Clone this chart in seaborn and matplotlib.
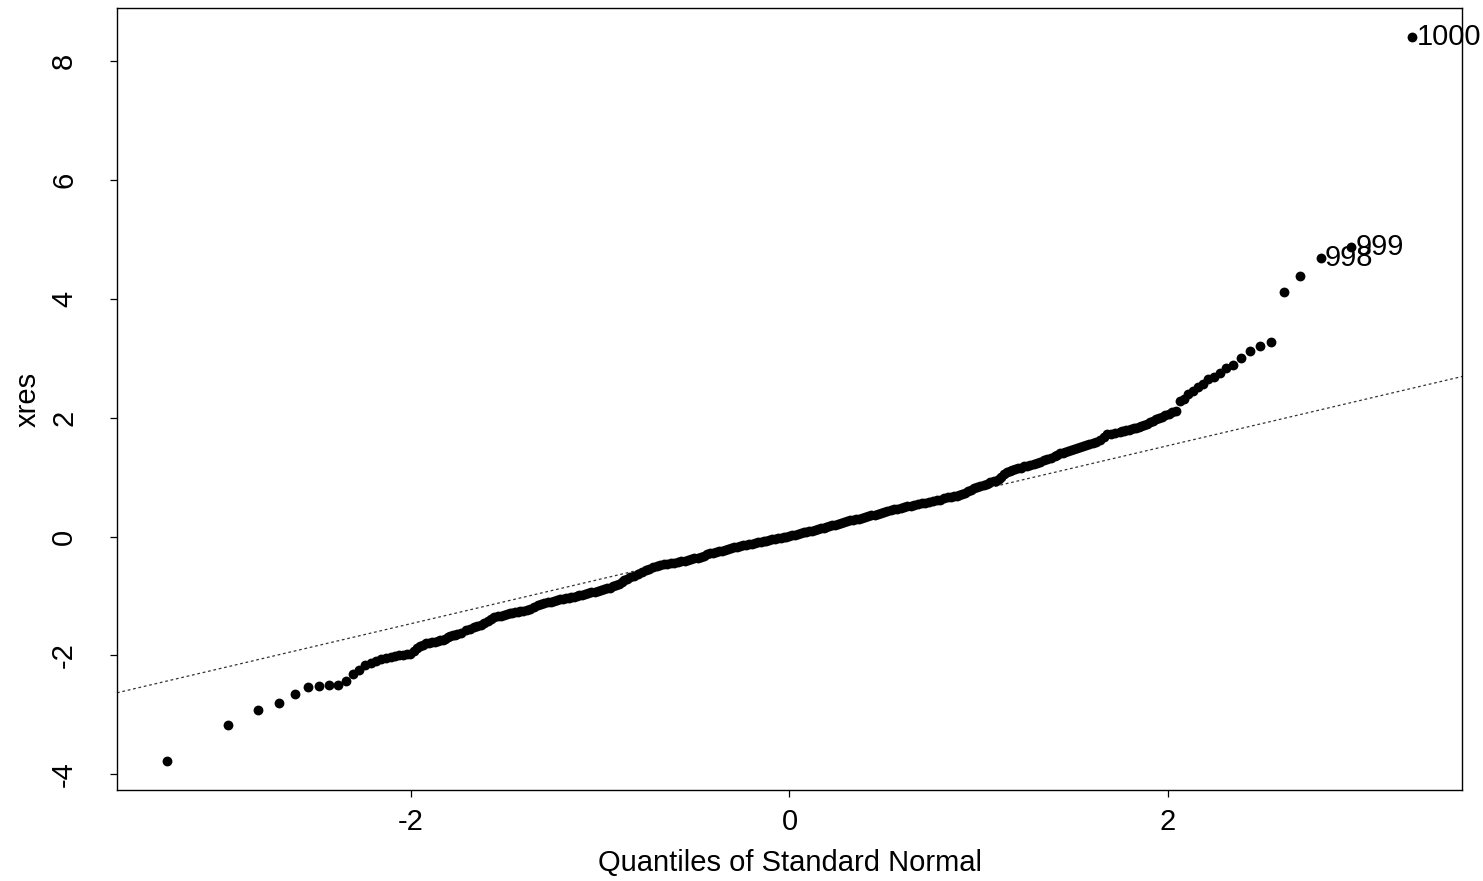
import numpy as np
import pandas as pd
import matplotlib
matplotlib.use("Agg")
import matplotlib.pyplot as plt
import seaborn as sns
from statistics import NormalDist

# Normal QQ plot of the residuals "xres" (n = 1000 observations).
n_obs = 1000

# Ranks of the ordered residuals that are plotted (every rank in the tails,
# thinner in the dense middle), and the residual value at each rank.
ranks = (list(range(1, 41)) + list(range(42, 81, 2)) + list(range(83, 141, 3))
         + list(range(144, 201, 4)) + list(range(206, 801, 6))
         + list(range(804, 861, 4)) + list(range(863, 921, 3))
         + list(range(922, 961, 2)) + list(range(961, 1001)))

xres = [
    # ranks 1-40
    -3.78, -3.17, -2.92, -2.80, -2.65, -2.53, -2.51, -2.50, -2.50, -2.43,
    -2.31, -2.25, -2.17, -2.13, -2.10, -2.07, -2.05, -2.03, -2.01, -2.00,
    -1.99, -1.98, -1.97, -1.92, -1.88, -1.85, -1.82, -1.80, -1.79, -1.78,
    -1.77, -1.76, -1.75, -1.74, -1.72, -1.70, -1.68, -1.66, -1.65, -1.64,
    # ranks 42-80
    -1.62, -1.58, -1.55, -1.53, -1.51, -1.49, -1.46, -1.42, -1.39, -1.36,
    -1.34, -1.33, -1.32, -1.30, -1.29, -1.28, -1.27, -1.27, -1.26, -1.25,
    # ranks 83-140
    -1.24, -1.22, -1.18, -1.16, -1.14, -1.12, -1.11, -1.10, -1.08, -1.07,
    -1.06, -1.05, -1.04, -1.03, -1.02, -1.01, -1.00, -0.99, -0.98, -0.96,
    # ranks 144-200
    -0.95, -0.94, -0.93, -0.92, -0.90, -0.89, -0.87, -0.86, -0.84, -0.82,
    -0.80, -0.77, -0.74, -0.71, -0.69,
    # ranks 206-800
    -0.66, -0.63, -0.60, -0.57, -0.54, -0.52, -0.50, -0.48, -0.47, -0.46,
    -0.45, -0.44, -0.43, -0.42, -0.41, -0.39, -0.38, -0.37, -0.36, -0.35,
    -0.32, -0.30, -0.28, -0.27, -0.26, -0.25, -0.24, -0.22, -0.21, -0.20,
    -0.18, -0.17, -0.16, -0.15, -0.14, -0.13, -0.12, -0.11, -0.10, -0.09,
    -0.08, -0.07, -0.06, -0.05, -0.04, -0.03, -0.02, -0.01, 0.00, 0.01,
    0.02, 0.03, 0.04, 0.06, 0.07, 0.08, 0.09, 0.10, 0.11, 0.13,
    0.14, 0.15, 0.16, 0.17, 0.19, 0.20, 0.21, 0.23, 0.24, 0.26,
    0.27, 0.28, 0.29, 0.30, 0.32, 0.33, 0.34, 0.36, 0.37, 0.38,
    0.40, 0.41, 0.43, 0.44, 0.46, 0.47, 0.48, 0.50, 0.51, 0.52,
    0.53, 0.54, 0.56, 0.57, 0.58, 0.59, 0.61, 0.62, 0.64, 0.66,
    # ranks 804-860
    0.67, 0.68, 0.69, 0.70, 0.71, 0.73, 0.76, 0.79, 0.81, 0.83,
    0.85, 0.87, 0.89, 0.91, 0.93,
    # ranks 863-920
    0.94, 0.96, 1.00, 1.05, 1.08, 1.10, 1.12, 1.13, 1.15, 1.16,
    1.18, 1.19, 1.20, 1.22, 1.23, 1.25, 1.28, 1.30, 1.33, 1.36,
    # ranks 922-960
    1.38, 1.40, 1.41, 1.43, 1.44, 1.46, 1.47, 1.49, 1.50, 1.52,
    1.54, 1.56, 1.57, 1.59, 1.62, 1.67, 1.72, 1.73, 1.74, 1.76,
    # ranks 961-1000
    1.77, 1.78, 1.79, 1.80, 1.81, 1.82, 1.83, 1.85, 1.86, 1.88,
    1.90, 1.92, 1.95, 1.97, 1.99, 2.02, 2.05, 2.07, 2.09, 2.11,
    2.28, 2.32, 2.40, 2.45, 2.51, 2.57, 2.65, 2.69, 2.76, 2.84,
    2.89, 3.01, 3.13, 3.21, 3.27, 4.12, 4.39, 4.69, 4.88, 8.41,
]
assert len(ranks) == len(xres)

# Observations identified on the plot
labelled = [998, 999, 1000]
# Ranks at the lower and upper quartiles, used for the reference line
quartile_ranks = [248, 752]

sns.set_style("ticks")
plt.rcParams["font.family"] = ["Liberation Sans", "DejaVu Sans"]
plt.rcParams["axes.unicode_minus"] = False
plt.rcParams["text.color"] = "black"
plt.rcParams["axes.labelcolor"] = "black"
FS = 21

nd = NormalDist()
qnorm = [nd.inv_cdf((r - 0.5) / n_obs) for r in ranks]
df = pd.DataFrame({"rank": ranks, "theoretical": qnorm, "xres": xres})

fig = plt.figure(figsize=(14.83, 8.81), dpi=100)
ax = fig.add_axes([117 / 1483, 1 - 790 / 881, (1462 - 117) / 1483, (790 - 8) / 881])

sns.scatterplot(data=df, x="theoretical", y="xres", color="black", s=50,
                linewidth=0, ax=ax, legend=False, zorder=3)

# Reference line through the quartiles (qqline)
q = df.set_index("rank").loc[quartile_ranks]
ax.axline((q["theoretical"].iloc[0], q["xres"].iloc[0]),
          (q["theoretical"].iloc[1], q["xres"].iloc[1]),
          color="#333333", lw=0.9, linestyle=(0, (2.2, 2.2)), zorder=2)

# Identify the extreme observations
for r in labelled:
    row = df[df["rank"] == r].iloc[0]
    ax.annotate(str(r), (row["theoretical"], row["xres"]), xytext=(3, 0),
                textcoords="offset points", ha="left", va="center",
                fontsize=FS, color="black", annotation_clip=False)

# Axis limits with 4% padding of the data range
xmin, xmax = min(qnorm), max(qnorm)
ymin, ymax = min(xres), max(xres)
ax.set_xlim(xmin - 0.04 * (xmax - xmin), xmax + 0.04 * (xmax - xmin))
ax.set_ylim(ymin - 0.04 * (ymax - ymin), ymax + 0.04 * (ymax - ymin))

ax.set_xticks([-2, 0, 2])
ax.set_yticks([-4, -2, 0, 2, 4, 6, 8])
ax.tick_params(axis="both", direction="out", length=5, width=0.9,
               color="black", labelcolor="black", labelsize=FS)
ax.tick_params(axis="x", pad=8)
ax.tick_params(axis="y", pad=23)
for lab in ax.get_yticklabels():
    lab.set_rotation(90)
    lab.set_verticalalignment("center")

for side in ["top", "right", "bottom", "left"]:
    ax.spines[side].set_visible(True)
    ax.spines[side].set_color("black")
    ax.spines[side].set_linewidth(1.0)

ax.set_xlabel("Quantiles of Standard Normal", fontsize=FS, labelpad=9)
ax.set_ylabel("xres", fontsize=FS, labelpad=6)
ax.grid(False)

fig.savefig("out.png", dpi=100)
